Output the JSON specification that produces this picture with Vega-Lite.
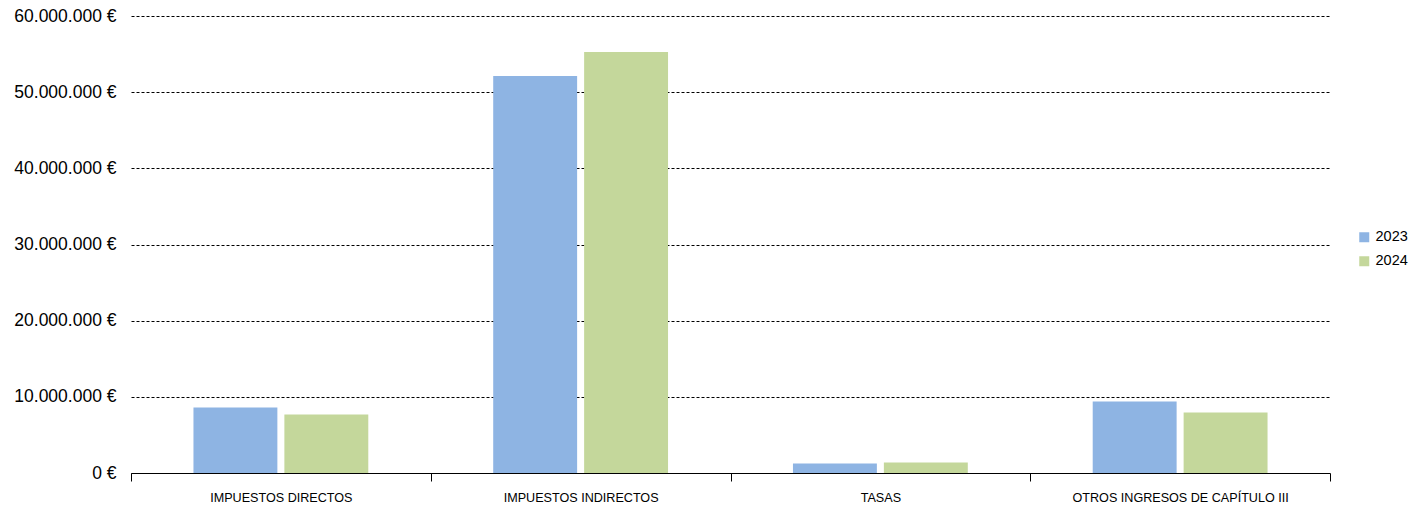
{
  "$schema": "https://vega.github.io/schema/vega-lite/v6.json",
  "width": 1199,
  "height": 457,
  "autosize": {"type": "none"},
  "padding": {"left": 131, "top": 16, "right": 83, "bottom": 35},
  "background": "white",
  "config": {
    "locale": {"number": {"decimal": ",", "thousands": ".", "grouping": [3], "currency": ["", " €"]}},
    "font": "Liberation Sans",
    "view": {"stroke": null}
  },
  "data": {
    "values": [
      {"categoria": "IMPUESTOS DIRECTOS", "anio": "2023", "importe": 8590000},
      {"categoria": "IMPUESTOS DIRECTOS", "anio": "2024", "importe": 7670000},
      {"categoria": "IMPUESTOS INDIRECTOS", "anio": "2023", "importe": 52130000},
      {"categoria": "IMPUESTOS INDIRECTOS", "anio": "2024", "importe": 55280000},
      {"categoria": "TASAS", "anio": "2023", "importe": 1250000},
      {"categoria": "TASAS", "anio": "2024", "importe": 1380000},
      {"categoria": "OTROS INGRESOS DE CAPÍTULO III", "anio": "2023", "importe": 9380000},
      {"categoria": "OTROS INGRESOS DE CAPÍTULO III", "anio": "2024", "importe": 7930000}
    ]
  },
  "mark": {"type": "bar"},
  "encoding": {
    "x": {
      "field": "categoria",
      "type": "nominal",
      "sort": null,
      "title": null,
      "scale": {"paddingInner": 0, "paddingOuter": 0},
      "axis": {
        "labelAngle": 0,
        "labelFontSize": 12.6,
        "labelColor": "black",
        "labelPadding": 10,
        "labelLimit": 0,
        "tickBand": "extent",
        "tickSize": 8,
        "tickColor": "black",
        "domainColor": "black",
        "domainWidth": 1,
        "grid": false
      }
    },
    "xOffset": {"field": "anio", "type": "nominal", "scale": {"paddingInner": 0.077, "paddingOuter": 0.687}},
    "y": {
      "field": "importe",
      "type": "quantitative",
      "title": null,
      "scale": {"domain": [0, 60000000]},
      "axis": {
        "values": [0, 10000000, 20000000, 30000000, 40000000, 50000000, 60000000],
        "format": ",.0f",
        "labelExpr": "datum.label + ' €'",
        "labelFontSize": 17.5,
        "labelColor": "black",
        "labelPadding": 15,
        "ticks": false,
        "domain": false,
        "grid": true,
        "gridColor": "black",
        "gridDash": [3, 2],
        "gridWidth": 1
      }
    },
    "color": {
      "field": "anio",
      "type": "nominal",
      "title": null,
      "scale": {"domain": ["2023", "2024"], "range": ["#8EB4E3", "#C4D79B"]},
      "legend": {
        "orient": "none",
        "legendX": 1226,
        "legendY": 214,
        "symbolType": "square",
        "symbolSize": 100,
        "symbolStrokeWidth": 0,
        "labelFontSize": 14.5,
        "labelColor": "black",
        "rowPadding": 9,
        "labelOffset": 4
      }
    }
  }
}
